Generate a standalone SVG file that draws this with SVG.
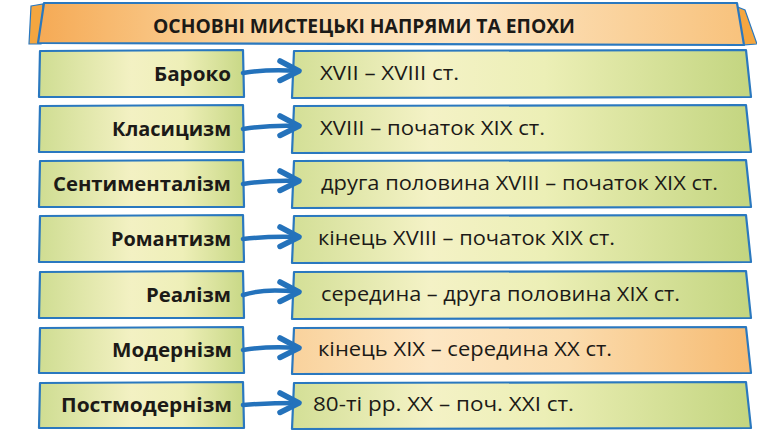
<svg xmlns="http://www.w3.org/2000/svg" width="757" height="443" viewBox="0 0 757 443">
<defs>
<linearGradient id="gL" x1="0" y1="0" x2="1" y2="0">
<stop offset="0" stop-color="#cfdd92"/>
<stop offset="0.45" stop-color="#f3f1c3"/>
<stop offset="0.7" stop-color="#eeefb8"/>
<stop offset="1" stop-color="#c8d886"/>
</linearGradient>
<linearGradient id="gR" x1="0" y1="0" x2="1" y2="0">
<stop offset="0" stop-color="#d3df96"/>
<stop offset="0.3" stop-color="#f4f2c6"/>
<stop offset="0.55" stop-color="#ecefb6"/>
<stop offset="1" stop-color="#c3d580"/>
</linearGradient>
<linearGradient id="gO" x1="0" y1="0" x2="1" y2="0">
<stop offset="0" stop-color="#f9d29c"/>
<stop offset="0.3" stop-color="#fde7c4"/>
<stop offset="0.6" stop-color="#fbdcae"/>
<stop offset="1" stop-color="#f6bb72"/>
</linearGradient>
<linearGradient id="gT" x1="0" y1="0" x2="1" y2="0">
<stop offset="0" stop-color="#f5aa55"/>
<stop offset="0.3" stop-color="#fbd7a2"/>
<stop offset="0.6" stop-color="#fde7c6"/>
<stop offset="1" stop-color="#f8c27c"/>
</linearGradient>
<path id="head" d="M-19,-10 L0,0 L-19,9.5" fill="none"/>
</defs>
<style>
.box{stroke:#2a78bf;stroke-width:2.2;stroke-linejoin:round}
.lt{font-family:"Open Sans","Noto Sans","DejaVu Sans",sans-serif;font-weight:bold;font-size:20px;fill:#1c1a17;text-anchor:end}
.rt{font-family:"Open Sans","Noto Sans","DejaVu Sans",sans-serif;font-size:20.5px;fill:#1c1a17}
.tt{font-family:"Open Sans","Noto Sans","DejaVu Sans",sans-serif;font-weight:bold;font-size:19.5px;fill:#1c1a17}
.arr{fill:none;stroke:#2472bb;stroke-width:4.5;stroke-linecap:round;stroke-linejoin:round}
.hd{fill:none;stroke:#2472bb;stroke-width:5.5;stroke-linecap:round;stroke-linejoin:round}
</style>
<rect width="757" height="443" fill="#ffffff"/>
<g id="title">
<polygon points="31,6 43,4 41,44 29,44" fill="#f4a640" stroke="#2a78bf" stroke-width="1.2"/>
<polygon points="735,6 745,10 757,44 742,45" fill="#f4a640" stroke="#2a78bf" stroke-width="1.2"/>
<polygon points="44,3 737,3 744,45 38,43" fill="url(#gT)" class="box"/>
<text x="153" y="33" class="tt" textLength="422" lengthAdjust="spacingAndGlyphs">ОСНОВНІ МИСТЕЦЬКІ НАПРЯМИ ТА ЕПОХИ</text>
</g>
<g id="n1"><polygon points="40,51 243,50 244,97 39,97" fill="url(#gL)" class="box"/><text x="231" y="81" class="lt" textLength="77" lengthAdjust="spacingAndGlyphs">Бароко</text></g>
<g id="e1"><polygon points="294,51 746,50 751,97 292,98" fill="url(#gR)" class="box"/><text x="320" y="80" class="rt" textLength="139" lengthAdjust="spacingAndGlyphs">XVII – XVIII ст.</text></g>
<g id="n2"><polygon points="40,106 243,105 244,152 39,152" fill="url(#gL)" class="box"/><text x="231" y="136" class="lt" textLength="119" lengthAdjust="spacingAndGlyphs">Класицизм</text></g>
<g id="e2"><polygon points="294,106 746,105 751,152 292,153" fill="url(#gR)" class="box"/><text x="320" y="135" class="rt" textLength="225" lengthAdjust="spacingAndGlyphs">XVIII – початок XIX ст.</text></g>
<g id="n3"><polygon points="40,161 243,160 244,207 39,207" fill="url(#gL)" class="box"/><text x="231" y="191" class="lt" textLength="178" lengthAdjust="spacingAndGlyphs">Сентименталізм</text></g>
<g id="e3"><polygon points="294,161 746,160 751,207 292,208" fill="url(#gR)" class="box"/><text x="321" y="190" class="rt" textLength="397" lengthAdjust="spacingAndGlyphs">друга половина XVIII – початок XIX ст.</text></g>
<g id="n4"><polygon points="40,216 243,215 244,262 39,262" fill="url(#gL)" class="box"/><text x="231" y="246" class="lt" textLength="120" lengthAdjust="spacingAndGlyphs">Романтизм</text></g>
<g id="e4"><polygon points="294,216 746,215 751,262 292,263" fill="url(#gR)" class="box"/><text x="318" y="245" class="rt" textLength="297" lengthAdjust="spacingAndGlyphs">кінець XVIII – початок XIX ст.</text></g>
<g id="n5"><polygon points="40,272 243,271 244,318 39,318" fill="url(#gL)" class="box"/><text x="231" y="302" class="lt" textLength="85" lengthAdjust="spacingAndGlyphs">Реалізм</text></g>
<g id="e5"><polygon points="294,272 746,271 751,318 292,319" fill="url(#gR)" class="box"/><text x="321" y="301" class="rt" textLength="359" lengthAdjust="spacingAndGlyphs">середина – друга половина XIX ст.</text></g>
<g id="n6"><polygon points="40,328 243,327 244,373 39,373" fill="url(#gL)" class="box"/><text x="232" y="357" class="lt" textLength="120" lengthAdjust="spacingAndGlyphs">Модернізм</text></g>
<g id="e6"><polygon points="294,328 746,327 751,373 292,374" fill="url(#gO)" class="box"/><text x="318" y="356" class="rt" textLength="294" lengthAdjust="spacingAndGlyphs">кінець XIX – середина XX ст.</text></g>
<g id="n7"><polygon points="40,383 243,382 244,428 39,428" fill="url(#gL)" class="box"/><text x="232" y="412" class="lt" textLength="171" lengthAdjust="spacingAndGlyphs">Постмодернізм</text></g>
<g id="e7"><polygon points="294,383 746,382 751,428 292,429" fill="url(#gR)" class="box"/><text x="313" y="411" class="rt" textLength="261" lengthAdjust="spacingAndGlyphs">80-ті рр. XX – поч. XXI ст.</text></g>
<g id="connectors">
<path d="M243,73 Q268,69 298,71" class="arr"/><use href="#head" x="299" y="71" class="hd"/>
<path d="M243,129 Q268,125 298,126" class="arr"/><use href="#head" x="299" y="126" class="hd"/>
<path d="M243,184 Q268,180 298,181" class="arr"/><use href="#head" x="299" y="181" class="hd"/>
<path d="M243,239 Q268,236 298,237" class="arr"/><use href="#head" x="299" y="237" class="hd"/>
<path d="M243,295 Q264,288 298,292" class="arr"/><use href="#head" x="299" y="292" class="hd"/>
<path d="M243,350 Q268,346 298,348" class="arr"/><use href="#head" x="299" y="348" class="hd"/>
<path d="M243,405 Q268,403 298,403" class="arr"/><use href="#head" x="299" y="403" class="hd"/>
</g>
</svg>
